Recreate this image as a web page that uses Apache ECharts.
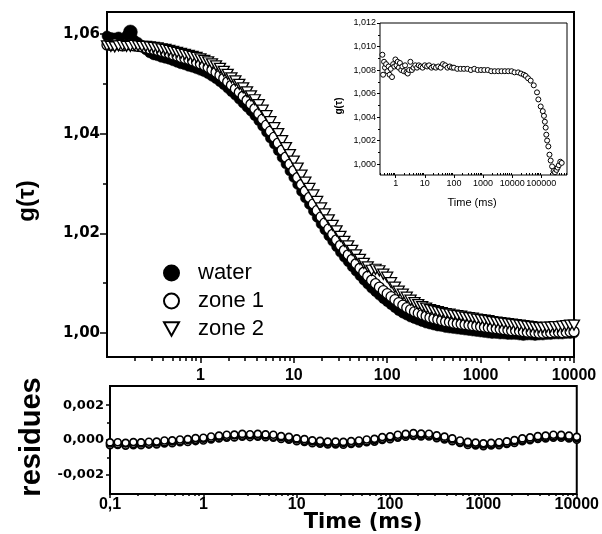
<!DOCTYPE html>
<html>
<head>
<meta charset="utf-8">
<script src="https://cdn.jsdelivr.net/npm/echarts@6/dist/echarts.min.js"></script>
<style>
html,body{margin:0;padding:0;background:#fff;}
#chart{width:602px;height:534px;}
</style>
</head>
<body>
<div id="chart"></div>
<script>
// ---------- data ----------
const times = [
  0.1,0.110,0.121,0.133,0.147,0.162,0.178,0.196,0.215,0.237,0.261,0.287,0.316,0.348,0.383,0.422,0.464,0.511,0.562,0.619,0.681,0.750,0.825,0.909,
  1,1.10,1.21,1.33,1.47,1.62,1.78,1.96,2.15,2.37,2.61,2.87,3.16,3.48,3.83,4.22,4.64,5.11,5.62,6.19,6.81,7.50,8.25,9.09,
  10,11.0,12.1,13.3,14.7,16.2,17.8,19.6,21.5,23.7,26.1,28.7,31.6,34.8,38.3,42.2,46.4,51.1,56.2,61.9,68.1,75.0,82.5,90.9,
  100,110,121,133,147,162,178,196,215,237,261,287,316,348,383,422,464,511,562,619,681,750,825,909,
  1000,1100,1210,1330,1470,1620,1780,1960,2150,2370,2610,2870,3160,3480,3830,4220,4640,5110,5620,6190,6810,7500,8250,9090,
  10000];

const water = [
  1.0596,1.0593,1.0592,1.0594,1.0589,1.0597,1.0604,1.0588,1.0583,1.0575,1.0568,1.0562,1.0558,1.0556,1.0553,1.0551,1.0549,1.0546,1.0543,1.0540,1.0538,1.0535,1.0533,1.0530,
  1.0527,1.0524,1.0520,1.0515,1.0510,1.0504,1.0498,1.0491,1.0484,1.0477,1.0469,1.0461,1.0453,1.0445,1.0436,1.0426,1.0415,1.0403,1.0391,1.0379,1.0366,1.0352,1.0339,1.0325,
  1.0312,1.0298,1.0284,1.0271,1.0258,1.0245,1.0232,1.0219,1.0207,1.0195,1.0184,1.0173,1.0162,1.0152,1.0143,1.0133,1.0124,1.0115,1.0106,1.0098,1.0090,1.0083,1.0076,1.0069,
  1.0063,1.0057,1.0051,1.0045,1.0040,1.0036,1.0032,1.0029,1.0026,1.0023,1.0020,1.0018,1.0016,1.0014,1.0013,1.0011,1.0010,1.0009,1.0008,1.0007,1.0006,1.0005,1.0004,1.0003,
  1.0002,1.0001,1.0000,0.9999,0.9999,0.9998,0.9998,0.9997,0.9997,0.9997,0.9996,0.9995,0.9996,0.9996,0.9995,0.9996,0.9996,0.9997,0.9997,0.9998,0.9998,0.9998,0.9999,0.9999,
  1.0000];

const zone1 = [
  1.0578,1.0577,1.0580,1.0578,1.0576,1.0579,1.0578,1.0576,1.0575,1.0574,1.0572,1.0570,1.0569,1.0567,1.0565,1.0563,1.0561,1.0558,1.0556,1.0553,1.0551,1.0549,1.0546,1.0543,
  1.0540,1.0537,1.0533,1.0528,1.0523,1.0517,1.0511,1.0504,1.0497,1.0490,1.0483,1.0475,1.0467,1.0459,1.0450,1.0440,1.0429,1.0417,1.0405,1.0393,1.0381,1.0367,1.0353,1.0339,
  1.0326,1.0312,1.0298,1.0285,1.0272,1.0259,1.0246,1.0233,1.0221,1.0209,1.0198,1.0187,1.0176,1.0166,1.0157,1.0148,1.0139,1.0130,1.0122,1.0114,1.0106,1.0099,1.0092,1.0085,
  1.0079,1.0073,1.0067,1.0061,1.0056,1.0051,1.0047,1.0043,1.0040,1.0037,1.0034,1.0031,1.0029,1.0027,1.0025,1.0023,1.0022,1.0020,1.0019,1.0018,1.0017,1.0016,1.0015,1.0014,
  1.0013,1.0012,1.0011,1.0010,1.0009,1.0008,1.0007,1.0006,1.0005,1.0005,1.0004,1.0003,1.0002,1.0002,1.0001,1.0000,1.0000,1.0001,1.0001,1.0002,1.0002,1.0001,1.0002,1.0003,
  1.0003];

const zone2 = [
  1.0576,1.0575,1.0574,1.0576,1.0577,1.0575,1.0575,1.0577,1.0576,1.0575,1.0575,1.0574,1.0573,1.0572,1.0570,1.0569,1.0567,1.0565,1.0563,1.0561,1.0559,1.0557,1.0555,1.0553,
  1.0550,1.0547,1.0544,1.0540,1.0536,1.0531,1.0525,1.0519,1.0512,1.0506,1.0499,1.0492,1.0484,1.0476,1.0468,1.0458,1.0447,1.0436,1.0424,1.0412,1.0400,1.0386,1.0372,1.0358,
  1.0345,1.0331,1.0317,1.0303,1.0290,1.0277,1.0264,1.0251,1.0239,1.0227,1.0216,1.0205,1.0194,1.0184,1.0175,1.0166,1.0157,1.0148,1.0140,1.0133,1.0126,1.0128,1.0125,1.0118,
  1.0112,1.0101,1.0092,1.0084,1.0078,1.0072,1.0066,1.0061,1.0057,1.0053,1.0050,1.0047,1.0045,1.0043,1.0041,1.0039,1.0038,1.0036,1.0035,1.0034,1.0032,1.0031,1.0030,1.0028,
  1.0027,1.0026,1.0025,1.0023,1.0022,1.0021,1.0020,1.0019,1.0018,1.0017,1.0016,1.0015,1.0014,1.0013,1.0012,1.0011,1.0011,1.0012,1.0012,1.0013,1.0013,1.0014,1.0015,1.0016,
  1.0016];

const resTimes = [0.1, 0.121, 0.147, 0.178, 0.215, 0.261, 0.316, 0.383, 0.464, 0.562, 0.681, 0.825,
  1, 1.21, 1.47, 1.78, 2.15, 2.61, 3.16, 3.83, 4.64, 5.62, 6.81, 8.25,
  10, 12.1, 14.7, 17.8, 21.5, 26.1, 31.6, 38.3, 46.4, 56.2, 68.1, 82.5,
  100, 121, 147, 178, 215, 261, 316, 383, 464, 562, 681, 825,
  1000, 1210, 1470, 1780, 2150, 2610, 3160, 3830, 4640, 5620, 6810, 8250, 10000];

const resWater = [-0.00030,-0.00028,-0.00032,-0.00029,-0.00030,-0.00026,-0.00025,-0.00019,-0.00018,-0.00013,-0.00011,-0.00006,
  -0.00003,0.00004,0.00009,0.00014,0.00015,0.00019,0.00017,0.00019,0.00016,0.00014,0.00006,0.00002,
  -0.00007,-0.00011,-0.00018,-0.00021,-0.00025,-0.00025,-0.00027,-0.00022,-0.00019,-0.00013,-0.00009,0.00001,
  0.00005,0.00014,0.00019,0.00024,0.00021,0.00020,0.00011,0.00003,-0.00007,-0.00017,-0.00028,-0.00031,
  -0.00035,-0.00031,-0.00029,-0.00023,-0.00017,-0.00007,-0.00001,0.00006,0.00009,0.00014,0.00013,0.00009,0.00002];

const resZone1 = [-0.00020,-0.00024,-0.00019,-0.00023,-0.00020,-0.00021,-0.00014,-0.00013,-0.00008,-0.00007,0.00000,0.00001,
  0.00008,0.00010,0.00019,0.00020,0.00026,0.00025,0.00028,0.00025,0.00026,0.00019,0.00016,0.00008,
  0.00003,-0.00005,-0.00008,-0.00015,-0.00015,-0.00019,-0.00017,-0.00016,-0.00009,-0.00007,0.00001,0.00007,
  0.00015,0.00020,0.00029,0.00030,0.00031,0.00026,0.00021,0.00009,0.00003,-0.00011,-0.00018,-0.00025,
  -0.00025,-0.00025,-0.00019,-0.00017,-0.00007,0.00001,0.00006,0.00014,0.00017,0.00022,0.00021,0.00017,0.00010];

const resZone2 = [-0.00014,-0.00013,-0.00016,-0.00012,-0.00014,-0.00010,-0.00009,-0.00003,-0.00002,0.00003,0.00005,0.00011,
  0.00013,0.00020,0.00025,0.00030,0.00031,0.00035,0.00033,0.00035,0.00032,0.00030,0.00022,0.00018,
  0.00009,0.00005,-0.00002,-0.00005,-0.00009,-0.00009,-0.00011,-0.00006,-0.00003,0.00003,0.00007,0.00017,
  0.00021,0.00030,0.00035,0.00040,0.00037,0.00036,0.00027,0.00019,0.00009,-0.00003,-0.00011,-0.00015,
  -0.00019,-0.00016,-0.00013,-0.00008,-0.00001,0.00009,0.00015,0.00022,0.00025,0.00030,0.00029,0.00025,0.00018];

const insetTimes = [0.35,0.37,0.40,0.43,0.47,0.52,0.57,0.62,0.68,0.75,
  0.82,0.9,0.98,1.07,1.17,1.28,1.4,1.55,1.7,1.9,
  2.1,2.35,2.6,2.9,3.2,3.6,4.1,4.7,5.4,6.2,
  7.2,8.4,10,12,14,17,20,24,29,35,
  42,50,60,72,86,100,130,170,220,290,
  380,500,650,850,1100,1450,1900,2500,3300,4300,
  5600,7300,9500,12000,16000,20000,25000,29000,35000,43000,
  55000,71000,79000,95000,112000,123000,132000,141000,148000,158000,
  174000,190000,209000,234000,263000,295000,331000,363000,398000,447000,
  501000];
const insetG = [1.0093,1.0076,1.0087,1.0082,1.0085,1.0079,1.0083,1.0076,1.0081,1.0074,
  1.0085,1.0083,1.0089,1.0084,1.0087,1.0082,1.0086,1.0080,1.0083,1.0079,
  1.0084,1.0078,1.0077,1.0080,1.0087,1.0080,1.0082,1.0084,1.0082,1.0084,
  1.0083,1.0082,1.0084,1.0083,1.0084,1.0082,1.0083,1.0082,1.0083,1.0082,
  1.0085,1.0084,1.0082,1.0083,1.0082,1.0082,1.0081,1.0081,1.0081,1.0081,
  1.0080,1.0081,1.0080,1.0080,1.0080,1.0080,1.0079,1.0079,1.0079,1.0079,
  1.0079,1.0079,1.0079,1.0078,1.0078,1.0077,1.0076,1.0075,1.0073,1.0071,
  1.0067,1.0061,1.0055,1.0049,1.0045,1.0041,1.0036,1.0031,1.0025,1.0020,
  1.0015,1.0008,1.0003,0.9998,0.9994,0.9993,0.9995,0.9997,0.9999,1.0002,
  1.0001];

// tick values
const mainXTicks = [1, 10, 100, 1000, 10000];
const resXTicks = [0.1, 1, 10, 100, 1000, 10000];
const logMinorTicks = [0.2,0.3,0.4,0.5,0.6,0.7,0.8,0.9, 2,3,4,5,6,7,8,9, 20,30,40,50,60,70,80,90,
  200,300,400,500,600,700,800,900, 2000,3000,4000,5000,6000,7000,8000,9000];
const mainYTicks = [1.00, 1.02, 1.04, 1.06];
const mainYMinor = [1.01, 1.03, 1.05];
const resYTicks = [-0.002, 0, 0.002];
const resYMinor = [-0.001, 0.001];
const insetXTicks = [1, 10, 100, 1000, 10000, 100000];
const insetXMinor = [0.3,0.4,0.5,0.6,0.7,0.8,0.9, 2,3,4,5,6,7,8,9, 20,30,40,50,60,70,80,90,
  200,300,400,500,600,700,800,900, 2000,3000,4000,5000,6000,7000,8000,9000,
  20000,30000,40000,50000,60000,70000,80000,90000, 200000,300000,400000,500000,600000,700000];
const insetYTicks = [1.000, 1.002, 1.004, 1.006, 1.008, 1.010, 1.012];
const insetYMinor = [1.001, 1.003, 1.005, 1.007, 1.009, 1.011];

// ---------- chart ----------
const chart = echarts.init(document.getElementById('chart'), null, {renderer: 'canvas'});
const comma = s => String(s).replace('.', ',');
const black = '#000';
const XF = 'Liberation Sans, Arial, sans-serif';
const YF = 'DejaVu Sans, sans-serif';

function xAx(grid, min, max, opt) {
  return Object.assign({
    type: 'log', logBase: 10, gridIndex: grid, min: min, max: max, position: 'bottom',
    axisLine: {show: false, onZero: false},
    splitLine: {show: false}, minorTick: {show: false}, minorSplitLine: {show: false}
  }, opt);
}
function yAx(grid, min, max, opt) {
  return Object.assign({
    type: 'value', gridIndex: grid, min: min, max: max, scale: true, position: 'left',
    axisLine: {show: false, onZero: false},
    splitLine: {show: false}
  }, opt);
}

const xAxes = [
  xAx(0, 0.1, 10000, {
    axisTick: {show: true, customValues: mainXTicks, length: 6, lineStyle: {color: black, width: 1.5}},
    axisLabel: {customValues: mainXTicks, margin: 11, formatter: v => comma(v), color: black,
      fontFamily: XF, fontWeight: 'bold', fontSize: 16}
  }),
  xAx(0, 0.1, 10000, {
    axisTick: {show: true, customValues: logMinorTicks, length: 4, lineStyle: {color: black, width: 1.5}},
    axisLabel: {show: false}
  }),
  xAx(1, 0.1, 10000, {
    axisTick: {show: true, customValues: resXTicks, length: 4, lineStyle: {color: black, width: 1.5}},
    axisLabel: {customValues: resXTicks, margin: 3, formatter: v => comma(v), color: black,
      fontFamily: XF, fontWeight: 'bold', fontSize: 16}
  }),
  xAx(1, 0.1, 10000, {
    axisTick: {show: true, customValues: logMinorTicks, length: 2, lineStyle: {color: black, width: 1.5}},
    axisLabel: {show: false}
  }),
  xAx(2, 0.29, 760000, {
    axisTick: {show: true, customValues: insetXTicks, length: 3, lineStyle: {color: black, width: 1}},
    axisLabel: {customValues: insetXTicks, margin: 4, formatter: v => String(v), color: black,
      fontFamily: XF, fontSize: 9}
  }),
  xAx(2, 0.29, 760000, {
    axisTick: {show: true, inside: true, customValues: insetXMinor, length: 2, lineStyle: {color: black, width: 1}},
    axisLabel: {show: false}
  })
];

const yAxes = [
  yAx(0, 0.9952, 1.0644, {
    axisTick: {show: true, customValues: mainYTicks, length: 7, lineStyle: {color: black, width: 1.5}},
    axisLabel: {customValues: mainYTicks, margin: 7, formatter: v => comma(v.toFixed(2)), color: black,
      fontFamily: YF, fontWeight: 'bold', fontSize: 15}
  }),
  yAx(0, 0.9952, 1.0644, {
    axisTick: {show: true, customValues: mainYMinor, length: 4, lineStyle: {color: black, width: 1.5}},
    axisLabel: {show: false}
  }),
  yAx(1, -0.0031, 0.0031, {
    axisTick: {show: true, customValues: resYTicks, length: 4, lineStyle: {color: black, width: 1.5}},
    axisLabel: {customValues: resYTicks, margin: 6, formatter: v => comma(v.toFixed(3)), color: black,
      fontFamily: YF, fontWeight: 'bold', fontSize: 13}
  }),
  yAx(1, -0.0031, 0.0031, {
    axisTick: {show: true, customValues: resYMinor, length: 3, lineStyle: {color: black, width: 1.5}},
    axisLabel: {show: false}
  }),
  yAx(2, 0.99907, 1.012, {
    axisTick: {show: true, customValues: insetYTicks, length: 3, lineStyle: {color: black, width: 1}},
    axisLabel: {customValues: insetYTicks, margin: 4, formatter: v => comma(v.toFixed(3)), color: black,
      fontFamily: XF, fontSize: 9}
  }),
  yAx(2, 0.99907, 1.012, {
    axisTick: {show: true, customValues: insetYMinor, length: 2, lineStyle: {color: black, width: 1}},
    axisLabel: {show: false}
  })
];

const pairs = (xs, ys) => xs.map((x, i) => [x, ys[i]]);
const openStyle = {color: '#fff', borderColor: black, borderWidth: 1.3, opacity: 1};
const resStyle = {color: '#fff', borderColor: black, borderWidth: 1.7, opacity: 1};

const option = {
  animation: false,
  backgroundColor: '#fff',
  grid: [
    {left: 107, top: 12, width: 467, height: 345, show: true, borderColor: black, borderWidth: 2, backgroundColor: 'transparent'},
    {left: 110, top: 386, width: 467, height: 108, show: true, borderColor: black, borderWidth: 2, backgroundColor: 'transparent'},
    {left: 380, top: 23, width: 187, height: 152, show: true, borderColor: black, borderWidth: 1, backgroundColor: 'transparent'}
  ],
  xAxis: xAxes,
  yAxis: yAxes,
  legend: {
    orient: 'vertical', left: 158, top: 257,
    itemWidth: 15, itemHeight: 15, itemGap: 6,
    data: ['water', 'zone 1', 'zone 2'],
    textStyle: {fontFamily: XF, fontSize: 22, color: black, lineHeight: 22, padding: [0, 0, 0, 14]},
    selectedMode: false
  },
  graphic: [
    {type: 'text', x: 27, y: 201, rotation: Math.PI / 2,
      style: {text: 'g(τ)', font: 'bold 24px Liberation Sans, Arial, sans-serif', fill: black, align: 'center', verticalAlign: 'middle'}},
    {type: 'text', x: 32, y: 437, rotation: Math.PI / 2,
      style: {text: 'residues', font: 'bold 29px Liberation Sans, Arial, sans-serif', fill: black, align: 'center', verticalAlign: 'middle'}},
    {type: 'text', x: 363, y: 523,
      style: {text: 'Time (ms)', font: 'bold 21px DejaVu Sans, sans-serif', fill: black, align: 'center', verticalAlign: 'middle'}},
    {type: 'text', x: 472, y: 203,
      style: {text: 'Time (ms)', font: '11px Liberation Sans, Arial, sans-serif', fill: black, align: 'center', verticalAlign: 'middle'}},
    {type: 'text', x: 339, y: 106, rotation: Math.PI / 2,
      style: {text: 'g(τ)', font: 'bold 10px Liberation Sans, Arial, sans-serif', fill: black, align: 'center', verticalAlign: 'middle'}}
  ],
  series: [
    {name: 'water', type: 'scatter', xAxisIndex: 0, yAxisIndex: 0, data: pairs(times, water),
      symbol: 'circle', symbolSize: (v, p) => (p.dataIndex === 6 ? 14 : 10),
      itemStyle: {color: black, borderColor: black, borderWidth: 0.5, opacity: 1}},
    {name: 'zone 1', type: 'scatter', xAxisIndex: 0, yAxisIndex: 0, data: pairs(times, zone1),
      symbol: 'circle', symbolSize: 10, itemStyle: openStyle},
    {name: 'zone 2', type: 'scatter', xAxisIndex: 0, yAxisIndex: 0, data: pairs(times, zone2),
      symbol: 'path://M0,0L10,0L5,9Z', symbolSize: [11, 10], itemStyle: openStyle},
    {name: 'res water', type: 'scatter', xAxisIndex: 2, yAxisIndex: 2, data: pairs(resTimes, resWater),
      symbol: 'circle', symbolSize: 7, itemStyle: resStyle},
    {name: 'res zone 1', type: 'scatter', xAxisIndex: 2, yAxisIndex: 2, data: pairs(resTimes, resZone1),
      symbol: 'circle', symbolSize: 7, itemStyle: resStyle},
    {name: 'res zone 2', type: 'scatter', xAxisIndex: 2, yAxisIndex: 2, data: pairs(resTimes, resZone2),
      symbol: 'circle', symbolSize: 7, itemStyle: resStyle},
    {name: 'inset', type: 'scatter', xAxisIndex: 4, yAxisIndex: 4, data: pairs(insetTimes, insetG),
      symbol: 'circle', symbolSize: 5, itemStyle: {color: '#fff', borderColor: black, borderWidth: 1, opacity: 1}}
  ]
};
chart.setOption(option);
</script>
</body>
</html>
